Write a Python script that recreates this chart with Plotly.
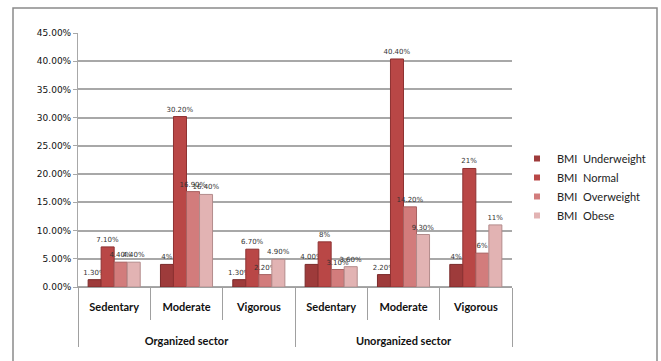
import plotly.graph_objects as go

# Physical activity level by sector, share of respondents (%) in each BMI class
sectors = ["Organized sector"] * 3 + ["Unorganized sector"] * 3
activity = ["Sedentary", "Moderate", "Vigorous"] * 2

underweight = [1.3, 4.0, 1.3, 4.0, 2.2, 4.0]
normal = [7.1, 30.2, 6.7, 8.0, 40.4, 21.0]
overweight = [4.4, 16.9, 2.2, 3.1, 14.2, 6.0]
obese = [4.4, 16.4, 4.9, 3.6, 9.3, 11.0]

underweight_lbl = ["1.30%", "4%", "1.30%", "4.00%", "2.20%", "4%"]
normal_lbl = ["7.10%", "30.20%", "6.70%", "8%", "40.40%", "21%"]
overweight_lbl = ["4.40%", "16.90%", "2.20%", "3.10%", "14.20%", "6%"]
obese_lbl = ["4.40%", "16.40%", "4.90%", "3.60%", "9.30%", "11%"]

series_names = ["BMI  Underweight", "BMI  Normal", "BMI  Overweight", "BMI  Obese"]
series_colors = ["#9E3B3B", "#B94746", "#D27C7C", "#E2B3B3"]
edge_colors = ["#7A2A2A", "#8E3232", "#A86262", "#B38C8C"]

y_ticks = [0, 5, 10, 15, 20, 25, 30, 35, 40, 45]
y_tick_text = ["0.00%", "5.00%", "10.00%", "15.00%", "20.00%", "25.00%",
               "30.00%", "35.00%", "40.00%", "45.00%"]

# outer level labels are pushed down below the activity labels
sector_axis = ["<br><br>" + s for s in sectors]

fig = go.Figure()
for name, vals, lbls, col, edge in zip(
    series_names,
    [underweight, normal, overweight, obese],
    [underweight_lbl, normal_lbl, overweight_lbl, obese_lbl],
    series_colors,
    edge_colors,
):
    fig.add_trace(
        go.Bar(
            x=[sector_axis, activity],
            y=vals,
            name=name,
            text=lbls,
            texttemplate="%{text}",
            textposition="outside",
            constraintext="none",
            textfont=dict(family="DejaVu Sans", size=7, color="#333333"),
            cliponaxis=False,
            marker=dict(color=col, line=dict(color=edge, width=1)),
            showlegend=False,
        )
    )
    # small square legend key for the series
    fig.add_trace(
        go.Scatter(
            x=[None],
            y=[None],
            mode="markers",
            name=name,
            marker=dict(symbol="square", size=6, color=col),
            showlegend=True,
        )
    )

# plot area spans x 78..512 px, y 33..287 px
L, R, T, B = 78, 512, 33, 287
W, H = R - L, B - T


def px_x(p):
    return (p - L) / W


def px_y(p):
    return (B - p) / H


fig.update_layout(
    width=661,
    height=361,
    margin=dict(l=L, r=661 - R, t=T, b=361 - B, autoexpand=False),
    paper_bgcolor="white",
    plot_bgcolor="white",
    barmode="group",
    bargap=0.28,
    bargroupgap=0.0,
    showlegend=True,
    legend=dict(
        x=px_x(517),
        y=px_y(187),
        xanchor="left",
        yanchor="middle",
        font=dict(family="Lato", size=11, color="#222222"),
        itemwidth=30,
        tracegroupgap=0,
        bgcolor="rgba(0,0,0,0)",
    ),
    xaxis=dict(
        type="multicategory",
        showgrid=False,
        showline=True,
        linecolor="#A0A0A0",
        linewidth=1,
        ticks="outside",
        ticklen=32,
        tickcolor="#A0A0A0",
        tickwidth=1,
        ticklabelstandoff=10,
        showdividers=True,
        dividercolor="#A0A0A0",
        dividerwidth=1,
        tickfont=dict(family="Lato", size=11, color="#111111", weight="bold"),
    ),
    yaxis=dict(
        range=[0, 45],
        tickvals=y_ticks,
        ticktext=y_tick_text,
        showgrid=True,
        gridcolor="#A8A8A8",
        gridwidth=1.5,
        zeroline=True,
        zerolinecolor="#A8A8A8",
        zerolinewidth=1.5,
        showline=True,
        linecolor="#A8A8A8",
        ticks="outside",
        ticklen=4,
        tickcolor="#A8A8A8",
        tickfont=dict(family="DejaVu Sans", size=9, color="#111111"),
    ),
)

# outer chart frame
fig.add_shape(
    type="rect",
    xref="paper",
    yref="paper",
    x0=px_x(13),
    x1=px_x(657),
    y0=px_y(375),
    y1=px_y(8),
    line=dict(color="#8A8A8A", width=1.5),
    fillcolor="rgba(0,0,0,0)",
    layer="below",
)

fig.write_html("out.html")
